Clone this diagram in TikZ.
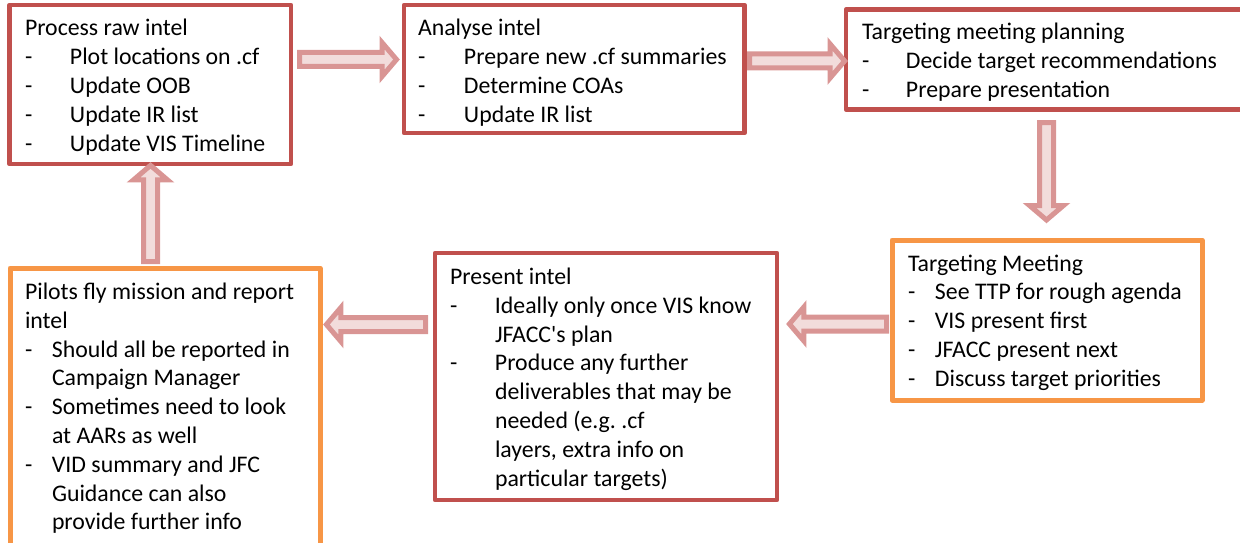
\documentclass[tikz,border=0pt]{standalone}
\usepackage{fontspec}
\setmainfont{Carlito}
\usetikzlibrary{calc}
\definecolor{boxred}{HTML}{C0504D}
\definecolor{boxorange}{HTML}{F79646}
\definecolor{arrowline}{HTML}{D99594}
\definecolor{arrowfill}{HTML}{F2DCDB}
\newcommand\itm[2]{\par\noindent\hangindent=#1\hangafter=1 \makebox[#1][l]{-}#2}
\newcommand\nl{\newline}
\newcommand\fatarrow[2]{%
  \coordinate (#1h) at ($(#2)!14.5pt!(#1)$);
  \draw[fat] ($(#1)!7pt!90:(#2)$) -- ($(#1h)!7pt!-90:(#1)$) -- ($(#1h)!17pt!-90:(#1)$)
    -- (#2) -- ($(#1h)!17pt!90:(#1)$) -- ($(#1h)!7pt!90:(#1)$) -- ($(#1)!7pt!-90:(#2)$) -- cycle;}
\tikzset{
  panel/.style={rectangle, inner sep=0pt, outer sep=0pt, anchor=north west, line join=round},
  redbox/.style={panel, draw=boxred, line width=4.5pt},
  orangebox/.style={panel, draw=boxorange, line width=5pt},
  txt/.style={anchor=base west, inner sep=0pt, outer sep=0pt},
  fat/.style={draw=arrowline, fill=arrowfill, line width=5pt, line join=miter}
}
\newenvironment{boxtext}[1]{\begin{minipage}[t]{#1}\raggedright\frenchspacing\fontsize{23.8}{28.8}\selectfont}{\end{minipage}}
\begin{document}
\begin{tikzpicture}[x=1pt,y=-1pt]
\useasboundingbox (0,0) rectangle (1240,543);
% boxes
\node[redbox, minimum width=281.5pt, minimum height=159pt] (b1) at (9.5,5) {};
\node[redbox, minimum width=340.5pt, minimum height=128pt] (b2) at (404,5) {};
\node[redbox, minimum width=400pt, minimum height=100pt] (b3) at (846,9.5) {};
\node[orangebox, minimum width=310pt, minimum height=160pt] (b4) at (892,240) {};
\node[redbox, minimum width=342pt, minimum height=247pt] (b5) at (435,253) {};
\node[orangebox, minimum width=310pt, minimum height=290pt] (b6) at (10,268) {};
% texts
\node[txt] (t1) at ($(b1.north west)+(15.5,31)$) {\begin{boxtext}{270pt}Process raw intel
  \itm{45pt}{Plot locations on .cf}\itm{45pt}{Update OOB}\itm{45pt}{Update IR list}\itm{45pt}{Update VIS Timeline}\end{boxtext}};
\node[txt] (t2) at ($(b2.north west)+(14,31)$) {\begin{boxtext}{330pt}Analyse intel
  \itm{46pt}{Prepare new .cf summaries}\itm{46pt}{Determine COAs}\itm{46pt}{Update IR list}\end{boxtext}};
\node[txt] (t3) at ($(b3.north west)+(16,30.5)$) {\begin{boxtext}{380pt}Targeting meeting planning
  \itm{44pt}{Decide target recommendations}\itm{44pt}{Prepare presentation}\end{boxtext}};
\node[txt] (t4) at ($(b4.north west)+(16,31)$) {\begin{boxtext}{300pt}Targeting Meeting
  \itm{27pt}{See TTP for rough agenda}\itm{27pt}{VIS present first}\itm{27pt}{JFACC present next}\itm{27pt}{Discuss target priorities}\end{boxtext}};
\node[txt] (t5) at ($(b5.north west)+(15,31.5)$) {\begin{boxtext}{330pt}Present intel
  \itm{45pt}{Ideally only once VIS know\nl JFACC\textquotesingle s plan}\itm{45pt}{Produce any further\nl deliverables that may be\nl needed (e.g. .cf\nl layers, extra info on\nl particular targets)}\end{boxtext}};
\node[txt] (t6) at ($(b6.north west)+(15,31.5)$) {\begin{boxtext}{300pt}Pilots fly mission and report\nl intel
  \itm{27pt}{Should all be reported in\nl Campaign Manager}\itm{27pt}{Sometimes need to look\nl at AARs as well}\itm{27pt}{VID summary and JFC\nl Guidance can also\nl provide further info}\end{boxtext}};
% arrow end points
\coordinate (a1s) at ($(b1.north east)+(8.5,54.5)$);
\coordinate (a1t) at ($(b2.north west)+(-7.5,54.5)$);
\coordinate (a2s) at ($(b2.north east)+(5,56)$);
\coordinate (a2t) at ($(b3.north west)+(-1.4,51.5)$);
\coordinate (a3s) at ($(b3.south west)+(200.5,13)$);
\coordinate (a3t) at ($(b4.north west)+(154.5,-20)$);
\coordinate (a4s) at ($(b4.north west)+(-5.5,84)$);
\coordinate (a4t) at ($(b5.north east)+(12.4,71)$);
\coordinate (a5s) at ($(b5.north west)+(-9.5,71.5)$);
\coordinate (a5t) at ($(b6.north east)+(6.4,56.5)$);
\coordinate (a6s) at ($(b6.north west)+(140.5,-6.5)$);
\coordinate (a6t) at ($(b1.south west)+(141,1.4)$);
\fatarrow{a1s}{a1t}
\fatarrow{a2s}{a2t}
\fatarrow{a3s}{a3t}
\fatarrow{a4s}{a4t}
\fatarrow{a5s}{a5t}
\fatarrow{a6s}{a6t}
\end{tikzpicture}
\end{document}
